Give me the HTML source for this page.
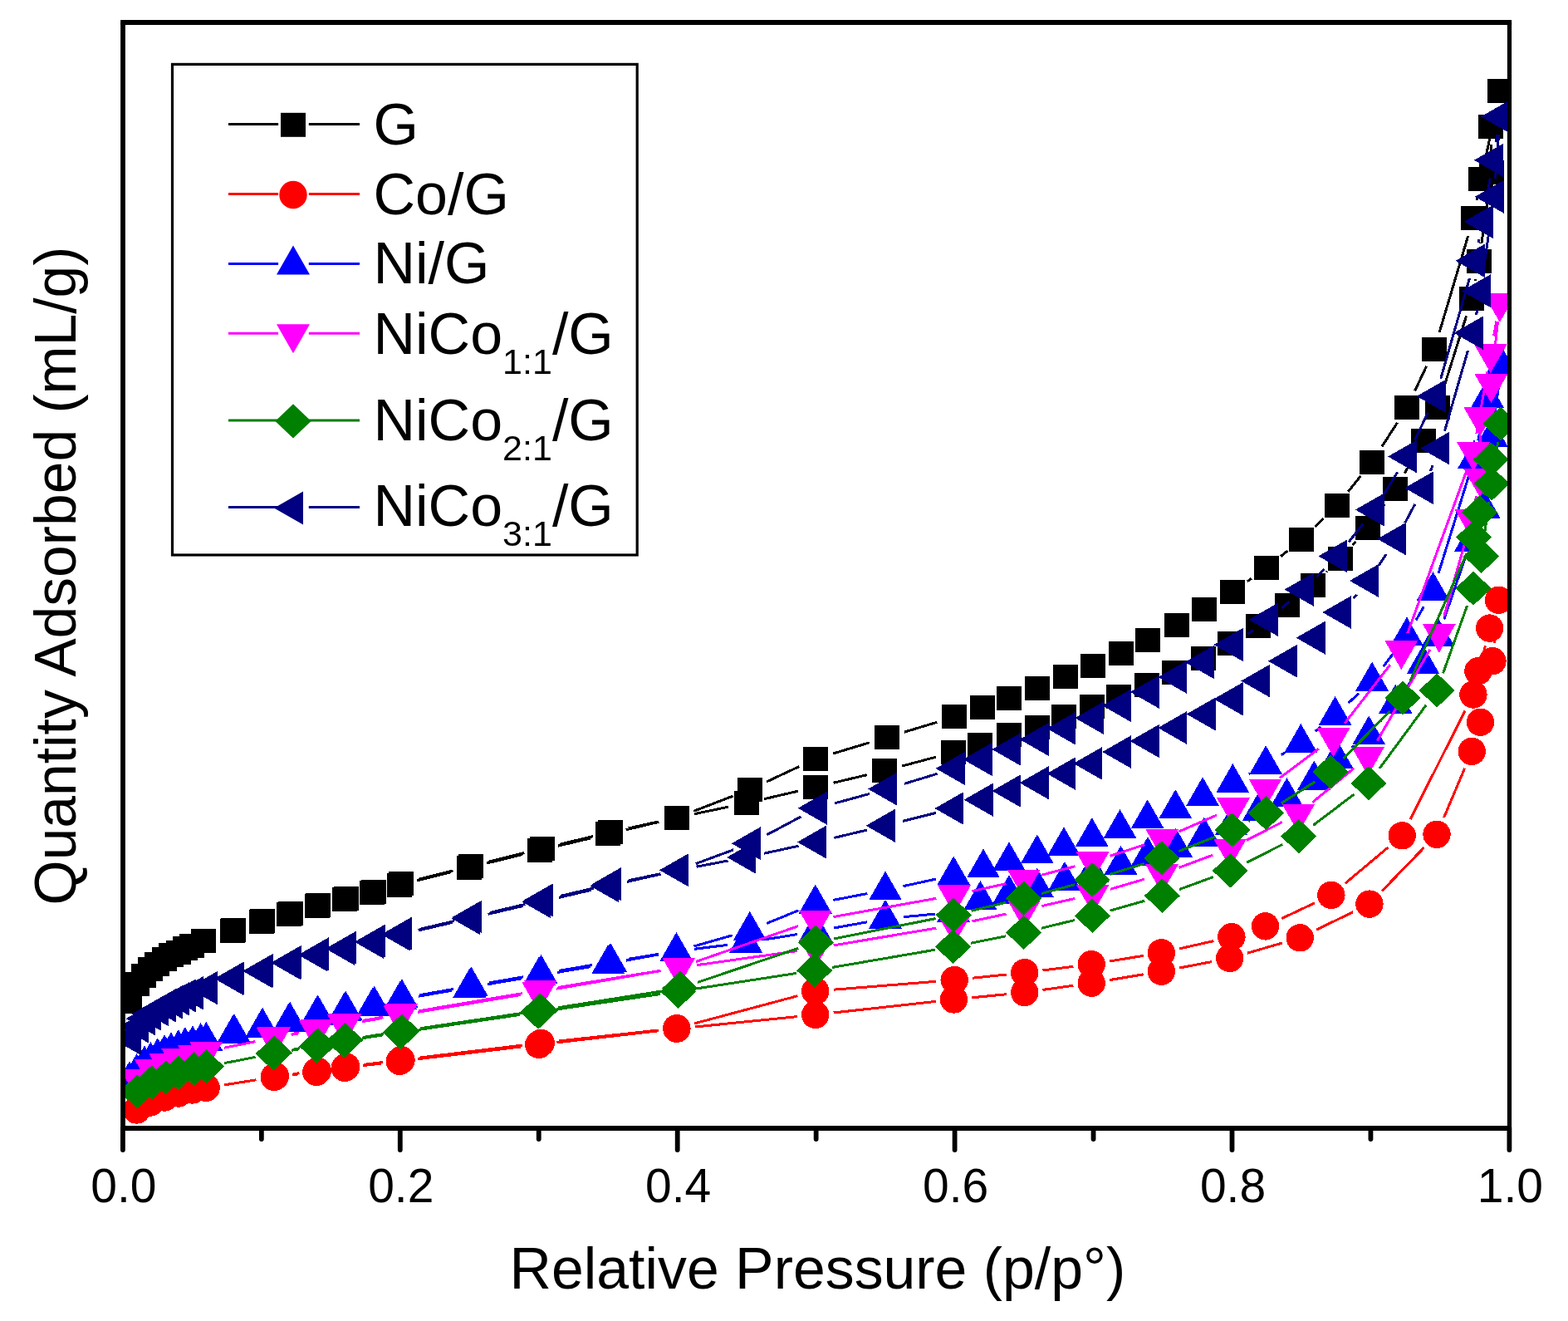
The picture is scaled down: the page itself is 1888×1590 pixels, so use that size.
<!DOCTYPE html><html><head><meta charset="utf-8"><title>Isotherm</title><style>html,body{margin:0;padding:0;background:#fff;}svg{display:block;}text{font-family:"Liberation Sans",Arial,sans-serif;fill:#000;}</style></head><body>
<svg width="1888" height="1590" viewBox="0 0 1888 1590">
<rect width="1888" height="1590" fill="#fff"/>
<defs><clipPath id="pc"><rect x="148" y="27" width="1670" height="1331"/></clipPath></defs>
<g clip-path="url(#pc)" shape-rendering="crispEdges">
<path d="M502.34 1059.86L543.26 1049.64M585.97 1039.06L628.93 1028.54M671.71 1018.24L710.99 1008.96M753.8 998.78L793.3 989.32M836.24 979.7L876.96 971.2M919.93 961.73L960.77 952.27M1003.61 942.23L1043.59 932.77M1086.26 922.03L1126.94 911.17M1596.92 688.71L1597.98 687.69M1628.54 656.07L1632.26 651.93M1659.7 617.64L1667.4 606.76M1691.09 569.74L1702.51 549.96M1737.51 469.52L1765.59 380.28M1776.39 337.7L1776.71 336.1M1783.96 292.71L1792.94 228.79M1795.6 185L1795.4 174M1801.4 131.01L1788 193.79M1779.13 236.88L1778.27 241.22M1767.72 283.88L1733.18 399.82M1717.56 440.82L1703.74 470.28M1682.5 508.71L1664 537.49M1638.3 573.13L1623.3 591.77M1593.63 624.13L1583.27 634.07M1550.3 663.14L1542.1 669.76M1506.98 696.22L1501.92 699.78M1128.24 869.26L1088.96 881.14M1046.83 893.84L1003.27 906.96M962.27 922.61L922.93 940.99M882.46 958.19L835.24 976.31M793.21 988.9L756.69 996.9M713.8 1006.7L674.17 1016.15M631.42 1026.53L588.09 1037.24M545.4 1047.9L504.13 1058.3" fill="none" stroke="#000000" stroke-width="3" stroke-linecap="butt"/>
<g fill="#000000">
<rect x="141.1" y="1190.5" width="30" height="29"/>
<rect x="150" y="1169.6" width="30" height="29"/>
<rect x="158.1" y="1159.5" width="30" height="29"/>
<rect x="166" y="1151.9" width="30" height="29"/>
<rect x="174" y="1145.9" width="30" height="29"/>
<rect x="182.5" y="1139.5" width="30" height="29"/>
<rect x="190.9" y="1134.9" width="30" height="29"/>
<rect x="199.5" y="1131.5" width="30" height="29"/>
<rect x="208" y="1126.9" width="30" height="29"/>
<rect x="216" y="1123.9" width="30" height="29"/>
<rect x="230" y="1117.8" width="30" height="29"/>
<rect x="265.4" y="1106.1" width="30" height="29"/>
<rect x="300" y="1094.9" width="30" height="29"/>
<rect x="333.3" y="1085.8" width="30" height="29"/>
<rect x="366.5" y="1076.2" width="30" height="29"/>
<rect x="400.1" y="1068" width="30" height="29"/>
<rect x="433" y="1060.1" width="30" height="29"/>
<rect x="466" y="1050.7" width="30" height="29"/>
<rect x="549.6" y="1029.8" width="30" height="29"/>
<rect x="635.3" y="1008.8" width="30" height="29"/>
<rect x="717.4" y="989.4" width="30" height="29"/>
<rect x="799.7" y="969.7" width="30" height="29"/>
<rect x="883.5" y="952.2" width="30" height="29"/>
<rect x="967.2" y="932.8" width="30" height="29"/>
<rect x="1050" y="913.2" width="30" height="29"/>
<rect x="1133.2" y="891" width="30" height="29"/>
<rect x="1165.1" y="881.5" width="30" height="29"/>
<rect x="1200" y="870" width="30" height="29"/>
<rect x="1234" y="860.5" width="30" height="29"/>
<rect x="1265.8" y="848.4" width="30" height="29"/>
<rect x="1300" y="836.3" width="30" height="29"/>
<rect x="1332.2" y="823.6" width="30" height="29"/>
<rect x="1365.9" y="809.5" width="30" height="29"/>
<rect x="1399.1" y="794.8" width="30" height="29"/>
<rect x="1433.9" y="777.7" width="30" height="29"/>
<rect x="1466.1" y="759.9" width="30" height="29"/>
<rect x="1499.9" y="738.9" width="30" height="29"/>
<rect x="1534.8" y="714.2" width="30" height="29"/>
<rect x="1566.1" y="689.5" width="30" height="29"/>
<rect x="1598.8" y="657.9" width="30" height="29"/>
<rect x="1632" y="621.1" width="30" height="29"/>
<rect x="1665.1" y="574.3" width="30" height="29"/>
<rect x="1698.5" y="516.4" width="30" height="29"/>
<rect x="1715.9" y="476" width="30" height="29"/>
<rect x="1757.2" y="344.8" width="30" height="29"/>
<rect x="1765.9" y="300" width="30" height="29"/>
<rect x="1781" y="192.5" width="30" height="29"/>
<rect x="1780" y="137.5" width="30" height="29"/>
<rect x="1791" y="95" width="30" height="29"/>
<rect x="1768.4" y="200.8" width="30" height="29"/>
<rect x="1759" y="248.3" width="30" height="29"/>
<rect x="1711.9" y="406.4" width="30" height="29"/>
<rect x="1679.4" y="475.7" width="30" height="29"/>
<rect x="1637.1" y="541.5" width="30" height="29"/>
<rect x="1594.5" y="594.4" width="30" height="29"/>
<rect x="1552.4" y="634.8" width="30" height="29"/>
<rect x="1510" y="669.1" width="30" height="29"/>
<rect x="1468.9" y="697.9" width="30" height="29"/>
<rect x="1435" y="719.1" width="30" height="29"/>
<rect x="1401.6" y="738.2" width="30" height="29"/>
<rect x="1367.2" y="755.6" width="30" height="29"/>
<rect x="1335.1" y="771.5" width="30" height="29"/>
<rect x="1300.5" y="786.5" width="30" height="29"/>
<rect x="1268.4" y="800.1" width="30" height="29"/>
<rect x="1234" y="813.5" width="30" height="29"/>
<rect x="1200" y="826" width="30" height="29"/>
<rect x="1167.9" y="836.9" width="30" height="29"/>
<rect x="1134.3" y="848.4" width="30" height="29"/>
<rect x="1052.9" y="873" width="30" height="29"/>
<rect x="967.2" y="898.8" width="30" height="29"/>
<rect x="888" y="935.8" width="30" height="29"/>
<rect x="799.7" y="969.7" width="30" height="29"/>
<rect x="720.2" y="987.1" width="30" height="29"/>
<rect x="637.77" y="1006.75" width="30" height="29"/>
<rect x="551.73" y="1028.02" width="30" height="29"/>
<rect x="467.8" y="1049.18" width="30" height="29"/>
<rect x="434.66" y="1058.68" width="30" height="29"/>
<rect x="401.63" y="1066.69" width="30" height="29"/>
<rect x="367.9" y="1074.99" width="30" height="29"/>
<rect x="334.57" y="1084.69" width="30" height="29"/>
<rect x="301.13" y="1093.9" width="30" height="29"/>
<rect x="266.4" y="1105.2" width="30" height="29"/>
</g>
<path d="M269.83 1305.89L308.47 1299.81M352.04 1293.77L359.06 1292.93M437.04 1282.65L459.36 1279.95M503.05 1274.7L626.85 1260M670.55 1254.88L793.05 1240.72M836.79 1236L959.81 1223.6M1003.57 1218.99L1126.63 1205.41M1170.39 1200.82L1211.81 1196.68M1255.49 1191.44L1292.41 1186.26M1335.9 1179.59L1376.7 1172.81M1420.01 1165.05L1459.09 1157.55M1501.82 1147.25L1544.08 1134.95M1584.98 1119.18L1629.12 1097.72M1664.2 1072.29L1714.7 1020.11M1738.56 984.03L1763.64 924.67M1781.57 847.22L1780.83 829.78M1799.24 773.81L1802.26 744.19M1788.33 777.46L1779.17 814.64M1763.99 855.64L1698.11 986.16M1671.35 1019.94L1619.75 1063.26M1583.01 1086.8L1543.39 1105.5M1461.44 1132.55L1419.86 1141.95M1376.69 1150.36L1335.91 1157.04M1292.37 1163.34L1255.53 1167.96M1211.82 1172.98L1171.08 1177.22M1127.27 1181.27L1003.63 1191.23M960.45 1198.68L836.15 1231.92M793.03 1239.97L673.04 1252.99M629.33 1258.01L504.84 1273.13M461.16 1278.48L438.57 1281.28M360.46 1291.78L353.23 1292.66" fill="none" stroke="#FF0000" stroke-width="3" stroke-linecap="butt"/>
<g fill="#FF0000">
<circle cx="164.6" cy="1336" r="16.7"/>
<circle cx="181.3" cy="1327" r="16.7"/>
<circle cx="198" cy="1321" r="16.7"/>
<circle cx="214.7" cy="1316" r="16.7"/>
<circle cx="231.4" cy="1312" r="16.7"/>
<circle cx="248.1" cy="1309.3" r="16.7"/>
<circle cx="330.2" cy="1296.4" r="16.7"/>
<circle cx="380.9" cy="1290.3" r="16.7"/>
<circle cx="415.2" cy="1285.3" r="16.7"/>
<circle cx="481.2" cy="1277.3" r="16.7"/>
<circle cx="648.7" cy="1257.4" r="16.7"/>
<circle cx="814.9" cy="1238.2" r="16.7"/>
<circle cx="981.7" cy="1221.4" r="16.7"/>
<circle cx="1148.5" cy="1203" r="16.7"/>
<circle cx="1233.7" cy="1194.5" r="16.7"/>
<circle cx="1314.2" cy="1183.2" r="16.7"/>
<circle cx="1398.4" cy="1169.2" r="16.7"/>
<circle cx="1480.7" cy="1153.4" r="16.7"/>
<circle cx="1565.2" cy="1128.8" r="16.7"/>
<circle cx="1648.9" cy="1088.1" r="16.7"/>
<circle cx="1730" cy="1004.3" r="16.7"/>
<circle cx="1772.2" cy="904.4" r="16.7"/>
<circle cx="1782.5" cy="869.2" r="16.7"/>
<circle cx="1779.9" cy="807.8" r="16.7"/>
<circle cx="1797" cy="795.7" r="16.7"/>
<circle cx="1804.5" cy="722.3" r="16.7"/>
<circle cx="1793.6" cy="756.1" r="16.7"/>
<circle cx="1773.9" cy="836" r="16.7"/>
<circle cx="1688.2" cy="1005.8" r="16.7"/>
<circle cx="1602.9" cy="1077.4" r="16.7"/>
<circle cx="1523.5" cy="1114.9" r="16.7"/>
<circle cx="1482.9" cy="1127.7" r="16.7"/>
<circle cx="1398.4" cy="1146.8" r="16.7"/>
<circle cx="1314.2" cy="1160.6" r="16.7"/>
<circle cx="1233.7" cy="1170.7" r="16.7"/>
<circle cx="1149.2" cy="1179.5" r="16.7"/>
<circle cx="981.7" cy="1193" r="16.7"/>
<circle cx="814.9" cy="1237.6" r="16.7"/>
<circle cx="651.17" cy="1255.36" r="16.7"/>
<circle cx="483" cy="1275.78" r="16.7"/>
<circle cx="416.73" cy="1283.98" r="16.7"/>
<circle cx="382.3" cy="1289.09" r="16.7"/>
<circle cx="331.39" cy="1295.35" r="16.7"/>
</g>
<path d="M503.87 1199.22L543.73 1192.28M587.08 1184.77L627.52 1177.83M670.89 1170.44L710.51 1163.76M753.84 1156.13L792.76 1148.97M836.23 1142.28L876.17 1137.32M919.72 1131.08L960.28 1124.52M1003.65 1117.08L1044.35 1109.72M1087.9 1103.72L1126.1 1100.08M1627.29 900.09L1630.61 897.61M1662.44 867.63L1666.06 863.37M1692.94 828.59L1700.86 817.31M1738.75 745.59L1763.85 672.51M1788.89 589.64L1793.61 548.26M1799.1 504.61L1805 461.79M1786.24 500.2L1779.66 530.5M1768.46 573.01L1732.04 690.09M1714.46 730.13L1705.04 746.37M1680.56 782.82L1665.54 802.28M1635.97 834.67L1623.73 846.03M1590.41 874.73L1583.49 880.27M1547.64 905.66L1542.86 908.64M1504.89 930.85L1503.61 931.55M1126.71 1058.11L1087.49 1066.69M1044.39 1075.53L1003.31 1083.37M961.34 1095.83L923.16 1111.47M881.64 1125.83L835.56 1138.97M792.68 1148.5L756.72 1154.3M713.32 1161.51L673.35 1168.35M630 1175.83L589.21 1182.94M545.87 1190.55L505.67 1197.65" fill="none" stroke="#0000FF" stroke-width="3" stroke-linecap="butt"/>
<g fill="#0000FF">
<polygon points="156,1277 176,1312 136,1312"/>
<polygon points="164.6,1268 184.6,1303 144.6,1303"/>
<polygon points="173.9,1258.4 193.9,1293.4 153.9,1293.4"/>
<polygon points="181.4,1254 201.4,1289 161.4,1289"/>
<polygon points="189.7,1249.2 209.7,1284.2 169.7,1284.2"/>
<polygon points="198.1,1245.2 218.1,1280.2 178.1,1280.2"/>
<polygon points="206,1242.2 226,1277.2 186,1277.2"/>
<polygon points="214.8,1239.1 234.8,1274.1 194.8,1274.1"/>
<polygon points="222.8,1236 242.8,1271 202.8,1271"/>
<polygon points="232,1234.2 252,1269.2 212,1269.2"/>
<polygon points="241.7,1231.1 261.7,1266.1 221.7,1266.1"/>
<polygon points="248.3,1229.8 268.3,1264.8 228.3,1264.8"/>
<polygon points="280.9,1221 300.9,1256 260.9,1256"/>
<polygon points="315.1,1214 335.1,1249 295.1,1249"/>
<polygon points="347.9,1207 367.9,1242 327.9,1242"/>
<polygon points="381.5,1199 401.5,1234 361.5,1234"/>
<polygon points="414.8,1194 434.8,1229 394.8,1229"/>
<polygon points="449,1188 469,1223 429,1223"/>
<polygon points="482.2,1180 502.2,1215 462.2,1215"/>
<polygon points="565.4,1165.5 585.4,1200.5 545.4,1200.5"/>
<polygon points="649.2,1151.1 669.2,1186.1 629.2,1186.1"/>
<polygon points="732.2,1137.1 752.2,1172.1 712.2,1172.1"/>
<polygon points="814.4,1122 834.4,1157 794.4,1157"/>
<polygon points="898,1111.6 918,1146.6 878,1146.6"/>
<polygon points="982,1098 1002,1133 962,1133"/>
<polygon points="1066,1082.8 1086,1117.8 1046,1117.8"/>
<polygon points="1148,1075 1168,1110 1128,1110"/>
<polygon points="1180.4,1060 1200.4,1095 1160.4,1095"/>
<polygon points="1215,1053 1235,1088 1195,1088"/>
<polygon points="1248.8,1044.9 1268.8,1079.9 1228.8,1079.9"/>
<polygon points="1282,1036.9 1302,1071.9 1262,1071.9"/>
<polygon points="1315,1027 1335,1062 1295,1062"/>
<polygon points="1349.5,1017.8 1369.5,1052.8 1329.5,1052.8"/>
<polygon points="1382,1007 1402,1042 1362,1042"/>
<polygon points="1415.9,996.6 1435.9,1031.6 1395.9,1031.6"/>
<polygon points="1449.7,983.5 1469.7,1018.5 1429.7,1018.5"/>
<polygon points="1482.6,970.4 1502.6,1005.4 1462.6,1005.4"/>
<polygon points="1515.7,953 1535.7,988 1495.7,988"/>
<polygon points="1549.5,936.2 1569.5,971.2 1529.5,971.2"/>
<polygon points="1582.3,915.6 1602.3,950.6 1562.3,950.6"/>
<polygon points="1609.7,890.3 1629.7,925.3 1589.7,925.3"/>
<polygon points="1648.2,861.4 1668.2,896.4 1628.2,896.4"/>
<polygon points="1680.3,823.6 1700.3,858.6 1660.3,858.6"/>
<polygon points="1713.5,776.3 1733.5,811.3 1693.5,811.3"/>
<polygon points="1731.6,743.4 1751.6,778.4 1711.6,778.4"/>
<polygon points="1771,628.7 1791,663.7 1751,663.7"/>
<polygon points="1786.4,588.5 1806.4,623.5 1766.4,623.5"/>
<polygon points="1796.1,503.4 1816.1,538.4 1776.1,538.4"/>
<polygon points="1808,417 1828,452 1788,452"/>
<polygon points="1790.9,455.7 1810.9,490.7 1770.9,490.7"/>
<polygon points="1775,529 1795,564 1755,564"/>
<polygon points="1725.5,688.1 1745.5,723.1 1705.5,723.1"/>
<polygon points="1694,742.4 1714,777.4 1674,777.4"/>
<polygon points="1652.1,796.7 1672.1,831.7 1632.1,831.7"/>
<polygon points="1607.6,838 1627.6,873 1587.6,873"/>
<polygon points="1566.3,871 1586.3,906 1546.3,906"/>
<polygon points="1524.2,897.3 1544.2,932.3 1504.2,932.3"/>
<polygon points="1484.3,919.1 1504.3,954.1 1464.3,954.1"/>
<polygon points="1448.1,935.2 1468.1,970.2 1428.1,970.2"/>
<polygon points="1415.3,950.3 1435.3,985.3 1395.3,985.3"/>
<polygon points="1381.7,962.4 1401.7,997.4 1361.7,997.4"/>
<polygon points="1348.5,974.1 1368.5,1009.1 1328.5,1009.1"/>
<polygon points="1314.8,984.1 1334.8,1019.1 1294.8,1019.1"/>
<polygon points="1281,995.2 1301,1030.2 1261,1030.2"/>
<polygon points="1248.8,1004.3 1268.8,1039.3 1228.8,1039.3"/>
<polygon points="1215,1013.3 1235,1048.3 1195,1048.3"/>
<polygon points="1184,1021.4 1204,1056.4 1164,1056.4"/>
<polygon points="1148.2,1030.4 1168.2,1065.4 1128.2,1065.4"/>
<polygon points="1066,1048.4 1086,1083.4 1046,1083.4"/>
<polygon points="981.7,1064.5 1001.7,1099.5 961.7,1099.5"/>
<polygon points="902.8,1096.8 922.8,1131.8 882.8,1131.8"/>
<polygon points="814.4,1122 834.4,1157 794.4,1157"/>
<polygon points="735,1134.8 755,1169.8 715,1169.8"/>
<polygon points="651.67,1149.06 671.67,1184.06 631.67,1184.06"/>
<polygon points="567.53,1163.72 587.53,1198.72 547.53,1198.72"/>
<polygon points="484,1178.48 504,1213.48 464,1213.48"/>
<polygon points="450.67,1186.58 470.67,1221.58 430.67,1221.58"/>
<polygon points="416.33,1192.69 436.33,1227.69 396.33,1227.69"/>
<polygon points="382.9,1197.79 402.9,1232.79 362.9,1232.79"/>
<polygon points="349.17,1205.89 369.17,1240.89 329.17,1240.89"/>
<polygon points="316.23,1213 336.23,1248 296.23,1248"/>
<polygon points="281.9,1220.1 301.9,1255.1 261.9,1255.1"/>
</g>
<path d="M269.77 1261.25L307.43 1253.65M350.66 1245.44L358.34 1244.06M435.88 1229.68L459.52 1225.62M502.9 1218.28L626.6 1197.62M669.98 1190.24L795.62 1168.46M839.08 1161.63L960.22 1144.57M1003.7 1137.86L1127.3 1117.14M1170.51 1108.89L1211.49 1100.11M1254.44 1090.57L1294.26 1081.43M1336.81 1070.29L1377.89 1058.21M1419.62 1044.33L1460.38 1029.17M1500.61 1011.52L1543.89 989.48M1580.51 965.54L1630.19 924.76M1658.23 891.76L1721.77 782.04M1738.8 741.83L1765.8 646.57M1776.16 603.84L1777.54 597.06M1782.02 553.5L1782.18 524M1797.75 440.13L1803.45 386.87M1801.86 386.64L1798.64 404.36M1790.9 447.67L1777.8 522.33M1766.49 564.68L1694.81 762.22M1673.8 800.27L1619 870.73M1587.88 901.28L1541.02 936.32M1464.85 981.13L1419.35 1001.07M1378.28 1016.71L1336.62 1030.29M1294.42 1042.68L1254.18 1053.22M1211.42 1063.56L1170.48 1072.64M1127.35 1081.3L1003.45 1103.6M961.02 1114.73L838.08 1157.47M795.59 1168.25L672.48 1188.41M629.07 1195.63L504.69 1216.71M461.32 1224.15L437.4 1228.32M359.74 1242.91L351.84 1244.34" fill="none" stroke="#FF00FF" stroke-width="3" stroke-linecap="butt"/>
<g fill="#FF00FF">
<polygon points="145,1287.4 185,1287.4 165,1322.4"/>
<polygon points="162.1,1275.3 202.1,1275.3 182.1,1310.3"/>
<polygon points="179.2,1267.7 219.2,1267.7 199.2,1302.7"/>
<polygon points="194.3,1262.2 234.3,1262.2 214.3,1297.2"/>
<polygon points="213.4,1257.5 253.4,1257.5 233.4,1292.5"/>
<polygon points="228.2,1253.6 268.2,1253.6 248.2,1288.6"/>
<polygon points="309,1237.3 349,1237.3 329,1272.3"/>
<polygon points="360,1228.2 400,1228.2 380,1263.2"/>
<polygon points="394.2,1221.4 434.2,1221.4 414.2,1256.4"/>
<polygon points="461.2,1209.9 501.2,1209.9 481.2,1244.9"/>
<polygon points="628.3,1182 668.3,1182 648.3,1217"/>
<polygon points="797.3,1152.7 837.3,1152.7 817.3,1187.7"/>
<polygon points="962,1129.5 1002,1129.5 982,1164.5"/>
<polygon points="1129,1101.5 1169,1101.5 1149,1136.5"/>
<polygon points="1213,1083.5 1253,1083.5 1233,1118.5"/>
<polygon points="1295.7,1064.5 1335.7,1064.5 1315.7,1099.5"/>
<polygon points="1379,1040 1419,1040 1399,1075"/>
<polygon points="1461,1009.5 1501,1009.5 1481,1044.5"/>
<polygon points="1543.5,967.5 1583.5,967.5 1563.5,1002.5"/>
<polygon points="1627.2,898.8 1667.2,898.8 1647.2,933.8"/>
<polygon points="1712.8,751 1752.8,751 1732.8,786"/>
<polygon points="1751.8,613.4 1791.8,613.4 1771.8,648.4"/>
<polygon points="1761.9,563.5 1801.9,563.5 1781.9,598.5"/>
<polygon points="1762.3,490 1802.3,490 1782.3,525"/>
<polygon points="1775.4,450 1815.4,450 1795.4,485"/>
<polygon points="1785.8,353 1825.8,353 1805.8,388"/>
<polygon points="1774.7,414 1814.7,414 1794.7,449"/>
<polygon points="1754,532 1794,532 1774,567"/>
<polygon points="1667.3,770.9 1707.3,770.9 1687.3,805.9"/>
<polygon points="1585.5,876.1 1625.5,876.1 1605.5,911.1"/>
<polygon points="1503.4,937.5 1543.4,937.5 1523.4,972.5"/>
<polygon points="1465,960.3 1505,960.3 1485,995.3"/>
<polygon points="1379.2,997.9 1419.2,997.9 1399.2,1032.9"/>
<polygon points="1295.7,1025.1 1335.7,1025.1 1315.7,1060.1"/>
<polygon points="1212.9,1046.8 1252.9,1046.8 1232.9,1081.8"/>
<polygon points="1129,1065.4 1169,1065.4 1149,1100.4"/>
<polygon points="961.8,1095.5 1001.8,1095.5 981.8,1130.5"/>
<polygon points="797.3,1152.7 837.3,1152.7 817.3,1187.7"/>
<polygon points="630.76,1179.96 670.76,1179.96 650.76,1214.96"/>
<polygon points="463,1208.38 503,1208.38 483,1243.38"/>
<polygon points="395.73,1220.09 435.73,1220.09 415.73,1255.09"/>
<polygon points="361.39,1226.99 401.39,1226.99 381.39,1261.99"/>
<polygon points="310.19,1236.25 350.19,1236.25 330.19,1271.25"/>
</g>
<path d="M270.1 1279.62L307.6 1272.38M350.87 1264.43L359.83 1262.87M435.94 1249.74L460.46 1245.96M503.97 1239.4L626.23 1221.4M669.76 1214.99L794.94 1196.51M838.44 1189.96L958.86 1171.44M1002.28 1164.39L1125.92 1143.21M1169.17 1135.17L1211.13 1126.73M1254.08 1117.2L1293.92 1107.5M1336.44 1096.22L1378.26 1084.18M1420.05 1070.52L1460.75 1055.58M1501.06 1038.12L1544.14 1016.48M1581.32 993.3L1630.48 956M1661.04 924.98L1717.16 848.72M1737.59 810.28L1766.61 728.92M1786.8 647.62L1793 603.98M1799.35 560.44L1803.65 531.76M1790.74 574.6L1786.26 595.3M1765.78 666.71L1697.82 819.89M1673.53 855.74L1617.37 913.26M1583.46 940.85L1542.94 966.75M1504.72 988.44L1503.48 989.06M1463.37 1007.07L1419.23 1024.73M1377.8 1039.46L1336.3 1052.44M1294.05 1064.71L1253.95 1075.49M1211.3 1086.29L1169.6 1096.21M1126.62 1105.59L1003.88 1130.01M961.46 1141.35L839.84 1182.45M797.27 1192.94L672.19 1212.72M628.71 1219.42L505.76 1237.82M462.27 1244.49L437.46 1248.38M361.23 1261.71L352.06 1263.33" fill="none" stroke="#008000" stroke-width="3" stroke-linecap="butt"/>
<g fill="#008000">
<polygon points="165.1,1293.4 186.7,1314 165.1,1334.6 143.5,1314"/>
<polygon points="182.7,1282.4 204.3,1303 182.7,1323.6 161.1,1303"/>
<polygon points="199.9,1276.4 221.5,1297 199.9,1317.6 178.3,1297"/>
<polygon points="215,1270.7 236.6,1291.3 215,1311.9 193.4,1291.3"/>
<polygon points="233.6,1266.2 255.2,1286.8 233.6,1307.4 212,1286.8"/>
<polygon points="248.5,1263.2 270.1,1283.8 248.5,1304.4 226.9,1283.8"/>
<polygon points="329.2,1247.6 350.8,1268.2 329.2,1288.8 307.6,1268.2"/>
<polygon points="381.5,1238.5 403.1,1259.1 381.5,1279.7 359.9,1259.1"/>
<polygon points="414.2,1232.5 435.8,1253.1 414.2,1273.7 392.6,1253.1"/>
<polygon points="482.2,1222 503.8,1242.6 482.2,1263.2 460.6,1242.6"/>
<polygon points="648,1197.6 669.6,1218.2 648,1238.8 626.4,1218.2"/>
<polygon points="816.7,1172.7 838.3,1193.3 816.7,1213.9 795.1,1193.3"/>
<polygon points="980.6,1147.5 1002.2,1168.1 980.6,1188.7 959,1168.1"/>
<polygon points="1147.6,1118.9 1169.2,1139.5 1147.6,1160.1 1126,1139.5"/>
<polygon points="1232.7,1101.8 1254.3,1122.4 1232.7,1143 1211.1,1122.4"/>
<polygon points="1315.3,1081.7 1336.9,1102.3 1315.3,1122.9 1293.7,1102.3"/>
<polygon points="1399.4,1057.5 1421,1078.1 1399.4,1098.7 1377.8,1078.1"/>
<polygon points="1481.4,1027.4 1503,1048 1481.4,1068.6 1459.8,1048"/>
<polygon points="1563.8,986 1585.4,1006.6 1563.8,1027.2 1542.2,1006.6"/>
<polygon points="1648,922.1 1669.6,942.7 1648,963.3 1626.4,942.7"/>
<polygon points="1730.2,810.4 1751.8,831 1730.2,851.6 1708.6,831"/>
<polygon points="1774,687.6 1795.6,708.2 1774,728.8 1752.4,708.2"/>
<polygon points="1783.7,648.8 1805.3,669.4 1783.7,690 1762.1,669.4"/>
<polygon points="1796.1,561.6 1817.7,582.2 1796.1,602.8 1774.5,582.2"/>
<polygon points="1806.9,489.4 1828.5,510 1806.9,530.6 1785.3,510"/>
<polygon points="1795.4,532.5 1817,553.1 1795.4,573.7 1773.8,553.1"/>
<polygon points="1781.6,596.2 1803.2,616.8 1781.6,637.4 1760,616.8"/>
<polygon points="1774.7,626 1796.3,646.6 1774.7,667.2 1753.1,646.6"/>
<polygon points="1688.9,819.4 1710.5,840 1688.9,860.6 1667.3,840"/>
<polygon points="1602,908.4 1623.6,929 1602,949.6 1580.4,929"/>
<polygon points="1524.4,958 1546,978.6 1524.4,999.2 1502.8,978.6"/>
<polygon points="1483.8,978.3 1505.4,998.9 1483.8,1019.5 1462.2,998.9"/>
<polygon points="1398.8,1012.3 1420.4,1032.9 1398.8,1053.5 1377.2,1032.9"/>
<polygon points="1315.3,1038.4 1336.9,1059 1315.3,1079.6 1293.7,1059"/>
<polygon points="1232.7,1060.6 1254.3,1081.2 1232.7,1101.8 1211.1,1081.2"/>
<polygon points="1148.2,1080.7 1169.8,1101.3 1148.2,1121.9 1126.6,1101.3"/>
<polygon points="982.3,1113.7 1003.9,1134.3 982.3,1154.9 960.7,1134.3"/>
<polygon points="819,1168.9 840.6,1189.5 819,1210.1 797.4,1189.5"/>
<polygon points="650.46,1195.56 672.06,1216.16 650.46,1236.76 628.86,1216.16"/>
<polygon points="484,1220.48 505.6,1241.08 484,1261.68 462.4,1241.08"/>
<polygon points="415.73,1231.19 437.33,1251.79 415.73,1272.39 394.13,1251.79"/>
<polygon points="382.9,1237.29 404.5,1257.89 382.9,1278.49 361.3,1257.89"/>
<polygon points="330.39,1246.55 351.99,1267.15 330.39,1287.75 308.79,1267.15"/>
</g>
<path d="M503.82 1119.97L544.78 1110.33M587.62 1100.3L629.98 1090.4M672.83 1080.4L711.87 1071.3M754.75 1061.43L795.55 1052.17M838.61 1043.2L876.59 1036M919.7 1027.26L961.5 1018.24M1004.39 1008.47L1044.21 998.93M1086.94 988.44L1127.06 978.36M1629.58 720.35L1633.62 715.65M1660.17 680.67L1669.23 667.03M1691.77 629.3L1703.83 606.7M1722.43 566.9L1725.17 560.1M1739.51 518.57L1767.49 421.83M1777.54 379.06L1778.86 371.84M1785.87 328.42L1795.73 258.58M1800.48 214.86L1804.52 162.34M1802.76 162.13L1801.34 171.07M1794.29 214.5L1789.21 245.1M1780.99 288.31L1780.11 292.39M1769.43 335.05L1734.77 455.75M1719.26 496.77L1703.64 529.63M1682.69 568.25L1666.41 594.75M1641.2 630.71L1624.1 652.19M1594.71 684.82L1585.19 694.18M1552.7 723.81L1543.5 731.59M1508.81 758.6L1502.39 763.2M1128.55 931.3L1089.15 943.3M1046.88 955.49L1005.02 966.91M964.37 983.02L923.23 1004.88M883.17 1022.83L837.63 1039.67M795.45 1051.75L757.65 1059.55M714.69 1069.04L675.29 1078.31M632.46 1088.4L589.75 1098.47M546.93 1108.59L505.61 1118.4" fill="none" stroke="#000080" stroke-width="3" stroke-linecap="butt"/>
<g fill="#000080">
<polygon points="134.6,1249.9 169.6,1229.9 169.6,1269.9"/>
<polygon points="143.6,1235.4 178.6,1215.4 178.6,1255.4"/>
<polygon points="151.5,1226.2 186.5,1206.2 186.5,1246.2"/>
<polygon points="158.5,1220.4 193.5,1200.4 193.5,1240.4"/>
<polygon points="167.8,1215.2 202.8,1195.2 202.8,1235.2"/>
<polygon points="176.6,1210.3 211.6,1190.3 211.6,1230.3"/>
<polygon points="184.5,1206.3 219.5,1186.3 219.5,1226.3"/>
<polygon points="192.7,1202.4 227.7,1182.4 227.7,1222.4"/>
<polygon points="200.8,1198.4 235.8,1178.4 235.8,1218.4"/>
<polygon points="209.6,1195.3 244.6,1175.3 244.6,1215.3"/>
<polygon points="226.5,1189.2 261.5,1169.2 261.5,1209.2"/>
<polygon points="258.3,1178 293.3,1158 293.3,1198"/>
<polygon points="292.5,1169 327.5,1149 327.5,1189"/>
<polygon points="326.5,1159 361.5,1139 361.5,1179"/>
<polygon points="359.3,1149.5 394.3,1129.5 394.3,1169.5"/>
<polygon points="392.3,1142 427.3,1122 427.3,1162"/>
<polygon points="427.2,1134 462.2,1114 462.2,1154"/>
<polygon points="459.4,1125 494.4,1105 494.4,1145"/>
<polygon points="543.2,1105.3 578.2,1085.3 578.2,1125.3"/>
<polygon points="628.4,1085.4 663.4,1065.4 663.4,1105.4"/>
<polygon points="710.3,1066.3 745.3,1046.3 745.3,1086.3"/>
<polygon points="794,1047.3 829,1027.3 829,1067.3"/>
<polygon points="875.2,1031.9 910.2,1011.9 910.2,1051.9"/>
<polygon points="960,1013.6 995,993.6 995,1033.6"/>
<polygon points="1042.6,993.8 1077.6,973.8 1077.6,1013.8"/>
<polygon points="1125.4,973 1160.4,953 1160.4,993"/>
<polygon points="1160.6,962.6 1195.6,942.6 1195.6,982.6"/>
<polygon points="1194.4,952 1229.4,932 1229.4,972"/>
<polygon points="1227.6,942.2 1262.6,922.2 1262.6,962.2"/>
<polygon points="1260.4,931.1 1295.4,911.1 1295.4,951.1"/>
<polygon points="1292.4,918.9 1327.4,898.9 1327.4,938.9"/>
<polygon points="1327.2,905 1362.2,885 1362.2,925"/>
<polygon points="1360.5,892 1395.5,872 1395.5,912"/>
<polygon points="1394.3,876 1429.3,856 1429.3,896"/>
<polygon points="1428.5,859.5 1463.5,839.5 1463.5,879.5"/>
<polygon points="1461.5,841.3 1496.5,821.3 1496.5,861.3"/>
<polygon points="1494.2,819.6 1529.2,799.6 1529.2,839.6"/>
<polygon points="1527,795.7 1562,775.7 1562,815.7"/>
<polygon points="1560.6,767.7 1595.6,747.7 1595.6,787.7"/>
<polygon points="1592.2,737 1627.2,717 1627.2,757"/>
<polygon points="1625,699 1660,679 1660,719"/>
<polygon points="1658.4,648.7 1693.4,628.7 1693.4,668.7"/>
<polygon points="1691.2,587.3 1726.2,567.3 1726.2,607.3"/>
<polygon points="1710.4,539.7 1745.4,519.7 1745.4,559.7"/>
<polygon points="1750.6,400.7 1785.6,380.7 1785.6,420.7"/>
<polygon points="1759.8,350.2 1794.8,330.2 1794.8,370.2"/>
<polygon points="1775.8,236.8 1810.8,216.8 1810.8,256.8"/>
<polygon points="1783.2,140.4 1818.2,120.4 1818.2,160.4"/>
<polygon points="1774.9,192.8 1809.9,172.8 1809.9,212.8"/>
<polygon points="1762.6,266.8 1797.6,246.8 1797.6,286.8"/>
<polygon points="1752.5,313.9 1787.5,293.9 1787.5,333.9"/>
<polygon points="1705.7,476.9 1740.7,456.9 1740.7,496.9"/>
<polygon points="1671.2,549.5 1706.2,529.5 1706.2,569.5"/>
<polygon points="1631.9,613.5 1666.9,593.5 1666.9,633.5"/>
<polygon points="1587.4,669.4 1622.4,649.4 1622.4,689.4"/>
<polygon points="1546.5,709.6 1581.5,689.6 1581.5,729.6"/>
<polygon points="1503.7,745.8 1538.7,725.8 1538.7,765.8"/>
<polygon points="1461.5,776 1496.5,756 1496.5,796"/>
<polygon points="1426.5,797 1461.5,777 1461.5,817"/>
<polygon points="1394.3,815.1 1429.3,795.1 1429.3,835.1"/>
<polygon points="1360.9,832.9 1395.9,812.9 1395.9,852.9"/>
<polygon points="1327.2,849.3 1362.2,829.3 1362.2,869.3"/>
<polygon points="1294.4,864.2 1329.4,844.2 1329.4,884.2"/>
<polygon points="1260.4,876.8 1295.4,856.8 1295.4,896.8"/>
<polygon points="1227.6,889.9 1262.6,869.9 1262.6,909.9"/>
<polygon points="1194.4,901.9 1229.4,881.9 1229.4,921.9"/>
<polygon points="1159.6,914 1194.6,894 1194.6,934"/>
<polygon points="1126.6,924.9 1161.6,904.9 1161.6,944.9"/>
<polygon points="1045.1,949.7 1080.1,929.7 1080.1,969.7"/>
<polygon points="960.8,972.7 995.8,952.7 995.8,992.7"/>
<polygon points="880.8,1015.2 915.8,995.2 915.8,1035.2"/>
<polygon points="794,1047.3 829,1027.3 829,1067.3"/>
<polygon points="713.1,1064 748.1,1044 748.1,1084"/>
<polygon points="630.88,1083.35 665.88,1063.35 665.88,1103.35"/>
<polygon points="545.34,1103.52 580.34,1083.52 580.34,1123.52"/>
<polygon points="461.2,1123.48 496.2,1103.48 496.2,1143.48"/>
<polygon points="428.87,1132.58 463.87,1112.58 463.87,1152.58"/>
<polygon points="393.83,1140.68 428.83,1120.68 428.83,1160.68"/>
<polygon points="360.7,1148.29 395.7,1128.29 395.7,1168.29"/>
<polygon points="327.77,1157.89 362.77,1137.89 362.77,1177.89"/>
<polygon points="293.64,1167.99 328.64,1147.99 328.64,1187.99"/>
<polygon points="259.3,1177.1 294.3,1157.1 294.3,1197.1"/>
</g>
</g>
<g stroke="#000" fill="none">
<path d="M148 1358V26.9" stroke-width="5.8"/>
<path d="M148 1358H1817.5" stroke-width="5.8"/>
<path d="M1817.5 1358V26.9" stroke-width="5.2"/>
<path d="M145.1 27H1820.1" stroke-width="5.8"/>
</g>
<path d="M147.9 1358V1384M314.85 1358V1371M481.8 1358V1384M648.75 1358V1371M815.7 1358V1384M982.65 1358V1371M1149.6 1358V1384M1316.55 1358V1371M1483.5 1358V1384M1650.45 1358V1371M1817.4 1358V1384" stroke="#000" stroke-width="5.8" stroke-linecap="round" fill="none"/>
<text x="148.9" y="1447" font-size="57" text-anchor="middle">0.0</text>
<text x="482.8" y="1447" font-size="57" text-anchor="middle">0.2</text>
<text x="816.7" y="1447" font-size="57" text-anchor="middle">0.4</text>
<text x="1150.6" y="1447" font-size="57" text-anchor="middle">0.6</text>
<text x="1484.5" y="1447" font-size="57" text-anchor="middle">0.8</text>
<text x="1818.4" y="1447" font-size="57" text-anchor="middle">1.0</text>
<text x="984.4" y="1550.5" font-size="69.8" text-anchor="middle">Relative Pressure (p/p&#176;)</text>
<text transform="translate(91 693) rotate(-90)" x="0" y="0" font-size="69.6" text-anchor="middle">Quantity Adsorbed (mL/g)</text>
<rect x="207.5" y="77.4" width="559.7" height="590.6" fill="#fff" stroke="#000" stroke-width="3.2"/>
<path d="M275 149.4H335.1M371.8 149.4H433" stroke="#000000" stroke-width="3" fill="none"/>
<g fill="#000000"><rect x="338" y="135.8" width="30" height="29"/></g>
<text x="449.5" y="174.3" font-size="70">G</text>
<path d="M275 233.6H335.1M371.8 233.6H433" stroke="#FF0000" stroke-width="3" fill="none"/>
<g fill="#FF0000"><circle cx="353" cy="234.5" r="16.7"/></g>
<text x="449.5" y="258" font-size="70">Co/G</text>
<path d="M275 317.5H335.1M371.8 317.5H433" stroke="#0000FF" stroke-width="3" fill="none"/>
<g fill="#0000FF"><polygon points="353,295.4 373,330.4 333,330.4"/></g>
<text x="449.5" y="341" font-size="70">Ni/G</text>
<path d="M275 401.3H335.1M371.8 401.3H433" stroke="#FF00FF" stroke-width="3" fill="none"/>
<g fill="#FF00FF"><polygon points="333,390.2 373,390.2 353,425.2"/></g>
<text x="449.5" y="425.7" font-size="70">NiCo<tspan font-size="43" dy="24">1:1</tspan><tspan dy="-24">/G</tspan></text>
<path d="M275 506H335.1M371.8 506H433" stroke="#008000" stroke-width="3" fill="none"/>
<g fill="#008000"><polygon points="353,486.3 374.6,506.9 353,527.5 331.4,506.9"/></g>
<text x="449.5" y="529.7" font-size="70">NiCo<tspan font-size="43" dy="24">2:1</tspan><tspan dy="-24">/G</tspan></text>
<path d="M275 610.5H335.1M371.8 610.5H433" stroke="#000080" stroke-width="3" fill="none"/>
<g fill="#000080"><polygon points="330,611.4 365,591.4 365,631.4"/></g>
<text x="449.5" y="633.3" font-size="70">NiCo<tspan font-size="43" dy="24">3:1</tspan><tspan dy="-24">/G</tspan></text>
</svg></body></html>
